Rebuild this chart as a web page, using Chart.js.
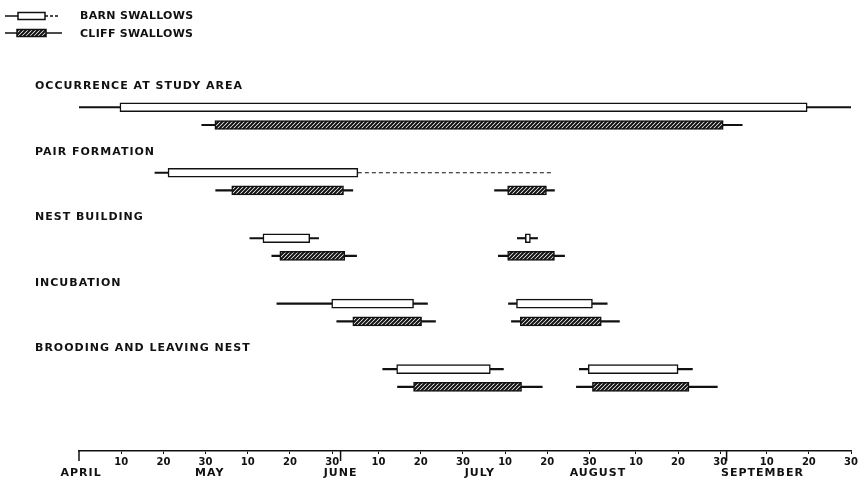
<!DOCTYPE html>
<html>
<head>
<meta charset="utf-8">
<script src="https://cdn.jsdelivr.net/npm/chart.js@4"></script>
<style>
html, body { margin: 0; padding: 0; background: #fff; }
</style>
</head>
<body>
<canvas id="chart_swallows" width="860" height="479"></canvas>
<script>
// days are counted from April 1 (= 1) to September 30 (= 183)
const stages = ['OCCURRENCE AT STUDY AREA', 'PAIR FORMATION', 'NEST BUILDING', 'INCUBATION', 'BROODING AND LEAVING NEST'];

const tickDays = [10, 20, 30, 40, 50, 60, 71, 81, 91, 101, 111, 121, 132, 142, 152, 163, 173, 183];
const tickLabels = ['10', '20', '30', '10', '20', '30', '10', '20', '30', '10', '20', '30', '10', '20', '30', '10', '20', '30'];
const months = ['APRIL', 'MAY', 'JUNE', 'JULY', 'AUGUST', 'SEPTEMBER'];
const monthLabelDays = [0.5, 31, 62, 95, 123, 162];
const monthStartDays = [0, 62, 153.5];

// barn swallows: whole range (thin line) and main period (box)
const barnStage = [0, 1, 2, 2, 3, 3, 4, 4];
const barnRange = [[0, 183], [18, 66.1], [40.5, 56.8], [103.9, 108.7], [46.9, 82.6], [101.8, 125.2], [72, 100.6], [118.6, 145.4]];
const barnBox = [[9.7, 172.6], [21.1, 66.1], [43.6, 54.7], [105.8, 107], [59.9, 79.3], [103.7, 121.7], [75.3, 97.5], [120.7, 142]];
const barnDashed = [66.1, 112]; // pair formation, uncertain

// cliff swallows
const cliffStage = [0, 1, 1, 2, 2, 3, 3, 4, 4];
const cliffRange = [[29.1, 157.2], [32.4, 64.9], [98.5, 112.7], [45.7, 65.8], [99.4, 115.1], [61.1, 84.5], [102.5, 128.1], [75.5, 109.8], [117.9, 151.3]];
const cliffBox = [[32.2, 152.7], [36.2, 62.7], [101.6, 110.8], [47.6, 63], [101.6, 112.7], [64.9, 81.2], [104.6, 123.8], [79.3, 104.9], [121.7, 144.6]];

const INK = '#111';
const BARN_OFF = 0;
const CLIFF_OFF = 0.27;
const LABEL_OFF = -0.32;
const FONT = "'DejaVu Sans', sans-serif";

const canvas = document.getElementById('chart_swallows');
const ctx0 = canvas.getContext('2d');

function makeHatch() {
	const c = document.createElement('canvas');
	c.width = 4;
	c.height = 4;
	const g = c.getContext('2d');
	g.fillStyle = '#fff';
	g.fillRect(0, 0, 4, 4);
	g.strokeStyle = INK;
	g.lineWidth = 2;
	g.beginPath();
	g.moveTo(-1, 5); g.lineTo(5, -1);
	g.moveTo(-1, 1); g.lineTo(1, -1);
	g.moveTo(3, 5); g.lineTo(5, 3);
	g.stroke();
	return ctx0.createPattern(c, 'repeat');
}
const hatch = makeHatch();

const toPoints = (ranges, stagesIdx, off) => ranges.map((r, i) => ({ x: r, y: stagesIdx[i] + off }));

const barStyle = {
	type: 'bar',
	indexAxis: 'y',
	grouped: false,
	barPercentage: 1,
	categoryPercentage: 1,
	borderSkipped: false,
};

const annotate = {
	id: 'annotate',
	afterDraw(chart) {
		const { ctx, chartArea, scales: { x, y } } = chart;
		ctx.save();
		ctx.fillStyle = INK;
		ctx.strokeStyle = INK;
		ctx.font = 'bold 11px ' + FONT;
		ctx.letterSpacing = '1px';
		ctx.textBaseline = 'middle';

		// stage titles
		ctx.textAlign = 'left';
		stages.forEach((s, i) => ctx.fillText(s, 35, y.getPixelForValue(i + LABEL_OFF)));

		// month names under the day ticks
		ctx.textAlign = 'center';
		months.forEach((m, i) => ctx.fillText(m, x.getPixelForValue(monthLabelDays[i]), chartArea.bottom + 22));

		// long ticks at month starts
		ctx.lineWidth = 1.5;
		monthStartDays.forEach(d => {
			const px = x.getPixelForValue(d);
			ctx.beginPath();
			ctx.moveTo(px, chartArea.bottom - 1);
			ctx.lineTo(px, chartArea.bottom + 10);
			ctx.stroke();
		});

		// legend
		ctx.lineWidth = 1.5;
		ctx.beginPath();
		ctx.moveTo(5, 16); ctx.lineTo(18, 16);
		ctx.moveTo(5, 33); ctx.lineTo(17, 33);
		ctx.moveTo(46, 33); ctx.lineTo(62, 33);
		ctx.stroke();
		ctx.setLineDash([3, 2]);
		ctx.beginPath();
		ctx.moveTo(45, 16); ctx.lineTo(60, 16);
		ctx.stroke();
		ctx.setLineDash([]);
		ctx.fillStyle = '#fff';
		ctx.fillRect(18, 12.5, 27, 7);
		ctx.strokeRect(18, 12.5, 27, 7);
		ctx.fillStyle = hatch;
		ctx.fillRect(17, 29.5, 29, 7);
		ctx.strokeRect(17, 29.5, 29, 7);
		ctx.fillStyle = INK;
		ctx.textAlign = 'left';
		ctx.letterSpacing = '0.3px';
		ctx.fillText('BARN SWALLOWS', 80, 16);
		ctx.fillText('CLIFF SWALLOWS', 80, 34);
		ctx.restore();
	},
};

const chart = new Chart(canvas, {
	type: 'bar',
	data: {
		datasets: [
			{
				...barStyle,
				label: 'Barn swallows',
				data: toPoints(barnBox, barnStage, BARN_OFF),
				backgroundColor: '#fff',
				borderColor: INK,
				borderWidth: 1.5,
				maxBarThickness: 9,
				order: 0,
			},
			{
				...barStyle,
				label: 'Cliff swallows',
				data: toPoints(cliffBox, cliffStage, CLIFF_OFF),
				backgroundColor: hatch,
				borderColor: INK,
				borderWidth: 1.5,
				maxBarThickness: 9,
				order: 0,
			},
			{
				...barStyle,
				label: 'Barn range',
				data: toPoints(barnRange, barnStage, BARN_OFF),
				backgroundColor: INK,
				borderWidth: 0,
				maxBarThickness: 1.5,
				order: 1,
			},
			{
				...barStyle,
				label: 'Cliff range',
				data: toPoints(cliffRange, cliffStage, CLIFF_OFF),
				backgroundColor: INK,
				borderWidth: 0,
				maxBarThickness: 1.5,
				order: 1,
			},
			{
				type: 'line',
				label: 'Barn pair formation (uncertain)',
				data: barnDashed.map(d => ({ x: d, y: 1 + BARN_OFF })),
				borderColor: INK,
				borderWidth: 1.2,
				borderDash: [4, 3],
				pointRadius: 0,
				order: 1,
			},
		],
	},
	plugins: [annotate],
	options: {
		indexAxis: 'y',
		responsive: false,
		animation: false,
		layout: {
			padding: { top: 68, left: 79, right: 8, bottom: 9 },
		},
		plugins: {
			legend: { display: false },
			tooltip: { enabled: false },
			title: { display: false },
		},
		scales: {
			x: {
				type: 'linear',
				position: 'bottom',
				offset: false,
				min: 0,
				max: 183,
				afterBuildTicks: scale => {
					scale.ticks = tickDays.map(v => ({ value: v }));
				},
				ticks: {
					autoSkip: false,
					maxRotation: 0,
					padding: 2,
					color: INK,
					font: { family: FONT, size: 10, weight: 'bold' },
					callback: (v, i) => tickLabels[i],
				},
				grid: {
					offset: false,
					drawOnChartArea: false,
					drawTicks: true,
					tickLength: 3,
					color: INK,
				},
				border: { display: true, color: INK, width: 1.5 },
			},
			y: {
				type: 'linear',
				display: false,
				offset: false,
				reverse: true,
				min: -0.6,
				max: 5.25,
				grid: { offset: false },
			},
		},
	},
});
</script>
</body>
</html>
